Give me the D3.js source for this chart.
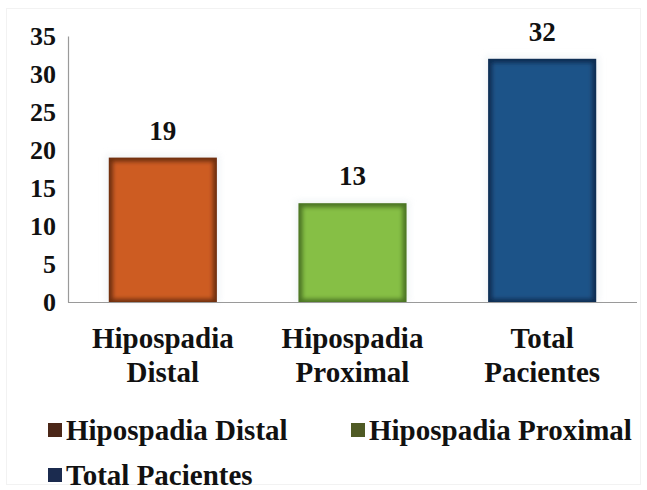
<!DOCTYPE html>
<html>
<head>
<meta charset="utf-8">
<script src="https://cdn.jsdelivr.net/npm/d3@7"></script>
<style>
  html, body { margin: 0; padding: 0; background: #fff; }
  svg { display: block; }
  text { font-family: "Liberation Serif", "Times New Roman", serif; font-weight: bold; fill: #111; }
</style>
</head>
<body>
<svg id="chart" width="647" height="490"></svg>
<script>
// Patients by hypospadias type
const categories = ["Hipospadia Distal", "Hipospadia Proximal", "Total Pacientes"];
const categoryLines = [["Hipospadia", "Distal"], ["Hipospadia", "Proximal"], ["Total", "Pacientes"]];
const values = [19, 13, 32];
const yTicks = [0, 5, 10, 15, 20, 25, 30, 35];

const fillColors = ["#cd5c20", "#86bf45", "#1d5388"];
const edgeColors = ["#6e2f10", "#4a7424", "#0f2d52"];
const legendColors = ["#4b2718", "#4f5a24", "#1b2b4f"];

const svg = d3.select("#chart");
const W = 647, H = 490;
const margin = { left: 68, right: 10, top: 36, bottom: 188 };
const plotBottom = H - margin.bottom; // 302

// faint frame round the chart
svg.append("rect")
  .attr("x", 6.5).attr("y", 8.5).attr("width", W - 13).attr("height", H - 14)
  .attr("fill", "none").attr("stroke", "#f2f2f2");

const x = d3.scaleBand()
  .domain(categories)
  .range([margin.left, W - margin.right])
  .paddingInner(0.43)
  .paddingOuter(0.215);

const y = d3.scaleLinear()
  .domain([0, 35])
  .range([plotBottom, margin.top]);

// soft inner shading for bars
const defs = svg.append("defs");
const blur = defs.append("filter").attr("id", "soft")
  .attr("x", "-10%").attr("y", "-10%").attr("width", "120%").attr("height", "120%");
blur.append("feGaussianBlur").attr("stdDeviation", 2.2);
const glow = defs.append("filter").attr("id", "glow")
  .attr("x", "-20%").attr("y", "-20%").attr("width", "140%").attr("height", "140%");
glow.append("feGaussianBlur").attr("stdDeviation", 3);

// Y axis
const yAxis = d3.axisLeft(y).tickValues(yTicks).tickSize(0).tickPadding(12);
const gy = svg.append("g").attr("transform", `translate(${margin.left},0)`).call(yAxis);
gy.select(".domain").attr("stroke", "#9a9a9a").attr("stroke-width", 1.2);
gy.selectAll("text")
  .style("font-family", "'Liberation Serif', 'Times New Roman', serif")
  .style("font-weight", "bold")
  .style("font-size", "26px")
  .attr("fill", "#111")
  .attr("dy", "0.34em");

// bars
const bars = svg.append("g").selectAll("g.bar").data(values).join("g").attr("class", "bar");
bars.append("rect")
  .attr("x", (d, i) => x(categories[i]) - 3)
  .attr("y", d => y(d) - 3)
  .attr("width", x.bandwidth() + 6)
  .attr("height", d => plotBottom - y(d) + 3)
  .attr("fill", "#e8eef2")
  .attr("opacity", 0.6)
  .attr("filter", "url(#glow)");
bars.append("rect")
  .attr("x", (d, i) => x(categories[i]))
  .attr("y", d => y(d))
  .attr("width", x.bandwidth())
  .attr("height", d => plotBottom - y(d))
  .attr("fill", (d, i) => edgeColors[i]);
bars.append("rect")
  .attr("x", (d, i) => x(categories[i]) + 4)
  .attr("y", d => y(d) + 4)
  .attr("width", x.bandwidth() - 8)
  .attr("height", d => plotBottom - y(d) - 7)
  .attr("fill", (d, i) => fillColors[i])
  .attr("filter", "url(#soft)");

// baseline
svg.append("line")
  .attr("x1", margin.left).attr("x2", W - margin.right)
  .attr("y1", plotBottom + 0.5).attr("y2", plotBottom + 0.5)
  .attr("stroke", "#9a9a9a").attr("stroke-width", 1.2);

// value labels
svg.append("g").selectAll("text").data(values).join("text")
  .attr("x", (d, i) => x(categories[i]) + x.bandwidth() / 2)
  .attr("y", d => y(d) - 18)
  .attr("text-anchor", "middle")
  .style("font-size", "27px")
  .text(d => d);

// category labels
const cat = svg.append("g").selectAll("text").data(categoryLines).join("text")
  .attr("text-anchor", "middle")
  .style("font-size", "29px");
cat.selectAll("tspan").data((d, i) => d.map(t => ({ t, i }))).join("tspan")
  .attr("x", d => x(categories[d.i]) + x.bandwidth() / 2)
  .attr("y", (d, j) => 348 + j * 34)
  .text(d => d.t);

// legend
const legendPos = [[48, 430], [351, 430], [48, 475]];
const lg = svg.append("g").selectAll("g").data(categories).join("g")
  .attr("transform", (d, i) => `translate(${legendPos[i][0]},${legendPos[i][1]})`);
lg.append("rect")
  .attr("x", 0).attr("y", -7).attr("width", 14).attr("height", 14)
  .attr("fill", (d, i) => legendColors[i]);
lg.append("text")
  .attr("x", 18).attr("y", 0).attr("dy", "0.35em")
  .style("font-size", "29px")
  .text(d => d);
</script>
</body>
</html>
